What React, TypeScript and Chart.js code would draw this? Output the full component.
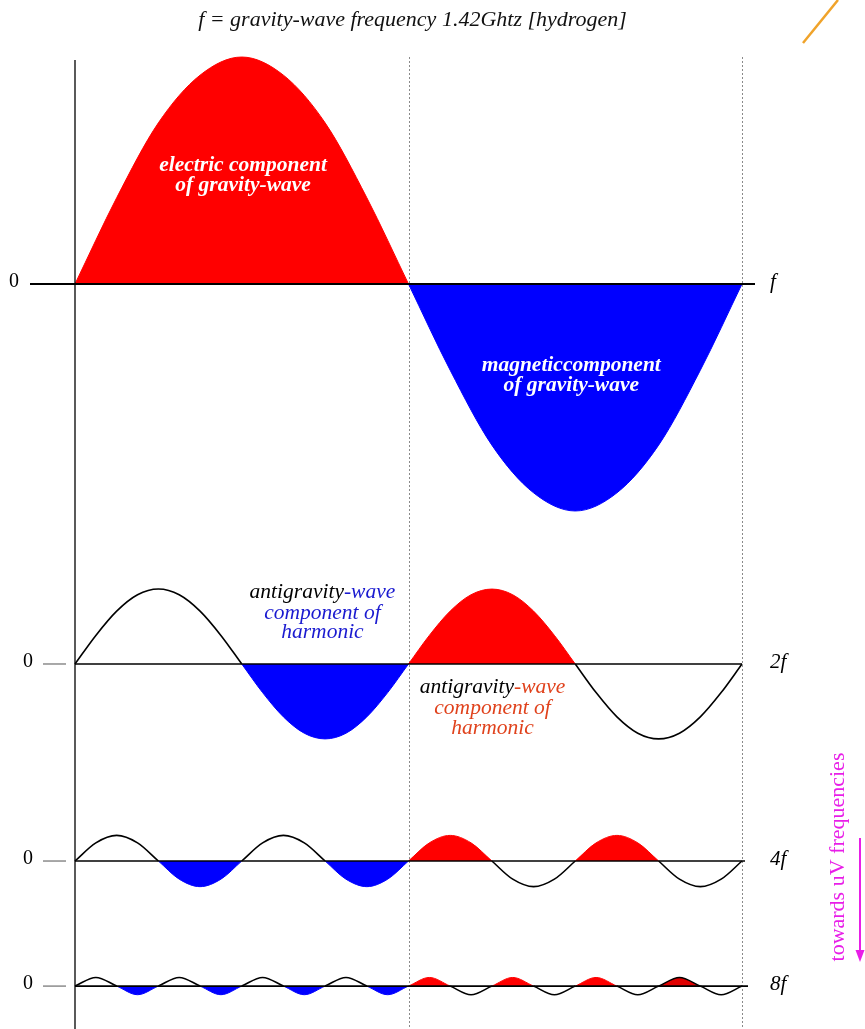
import React, { useEffect, useRef } from 'react';
import { Chart, registerables } from 'chart.js';

Chart.register(...registerables);

// ---------- text ----------
const titleText = 'f = gravity-wave frequency 1.42Ghtz [hydrogen]';
const harmonicLabels = ['f', '2f', '4f', '8f'];
const zeroLabel = '0';
const electricLabel = ['electric component', 'of gravity-wave'];
const magneticLabel = ['magneticcomponent', 'of gravity-wave'];
const noteHead = 'antigravity';
const noteTail = '-wave';
const noteLines = ['component of', 'harmonic'];
const sideNote = 'towards uV frequencies';

// ---------- data: samples evenly spaced over one fundamental period ----------
const fValues = [
  0, 0.38, 0.71, 0.92, 1.0, 0.92, 0.71, 0.38, 0,
  -0.38, -0.71, -0.92, -1.0, -0.92, -0.71, -0.38, 0,
];
const f2Values = [
  0, 0.126, 0.233, 0.305, 0.33, 0.305, 0.233, 0.126, 0,
  -0.126, -0.233, -0.305, -0.33, -0.305, -0.233, -0.126, 0,
  0.126, 0.233, 0.305, 0.33, 0.305, 0.233, 0.126, 0,
  -0.126, -0.233, -0.305, -0.33, -0.305, -0.233, -0.126, 0,
];
const f4Values = [
  0, 0.08, 0.113, 0.08, 0, -0.08, -0.113, -0.08, 0, 0.08, 0.113, 0.08, 0, -0.08, -0.113, -0.08,
  0, 0.08, 0.113, 0.08, 0, -0.08, -0.113, -0.08, 0, 0.08, 0.113, 0.08, 0, -0.08, -0.113, -0.08, 0,
];
const f8Values = [
  0, 0.038, 0, -0.038, 0, 0.038, 0, -0.038, 0, 0.038, 0, -0.038, 0, 0.038, 0, -0.038,
  0, 0.038, 0, -0.038, 0, 0.038, 0, -0.038, 0, 0.038, 0, -0.038, 0, 0.038, 0, -0.038, 0,
];

// component shown in each half-wave of each row
const fKinds = ['electric', 'magnetic'];
const f2Kinds = ['plain', 'magnetic', 'electric', 'plain'];
const f4Kinds = ['plain', 'magnetic', 'plain', 'magnetic', 'electric', 'plain', 'electric', 'plain'];
const f8Kinds = [
  'plain', 'magnetic', 'plain', 'magnetic', 'plain', 'magnetic', 'plain', 'magnetic',
  'electric', 'plain', 'electric', 'plain', 'electric', 'plain', 'electricOutlined', 'plain',
];

const KIND_STYLE: Record<string, { border: string; width: number; fill: string | null }> = {
  plain: { border: '#000000', width: 1.6, fill: null },
  electric: { border: '#ff0000', width: 1, fill: '#ff0000' },
  magnetic: { border: '#0000ff', width: 1, fill: '#0000ff' },
  electricOutlined: { border: '#000000', width: 1.4, fill: '#e00000' },
};

const rows = [
  { axis: 'yF', values: fValues, kinds: fKinds },
  { axis: 'y2F', values: f2Values, kinds: f2Kinds },
  { axis: 'y4F', values: f4Values, kinds: f4Kinds },
  { axis: 'y8F', values: f8Values, kinds: f8Kinds },
];

function halfWaveDatasets(values: number[], kinds: string[], axis: string) {
  const n = values.length - 1;
  const per = n / kinds.length;
  return kinds.map((kind, h) => {
    const pts: { x: number; y: number }[] = [];
    for (let i = h * per; i <= (h + 1) * per; i++) pts.push({ x: i / n, y: values[i] });
    const st = KIND_STYLE[kind];
    return {
      type: 'line' as const,
      data: pts,
      yAxisID: axis,
      borderColor: st.border,
      borderWidth: st.width,
      backgroundColor: st.fill || 'rgba(0,0,0,0)',
      fill: st.fill ? 'origin' : false,
      pointRadius: 0,
      cubicInterpolationMode: 'monotone' as const,
      clip: false as any,
    };
  });
}

const SERIF = '"Liberation Serif", "DejaVu Serif", serif';

const decor = {
  id: 'decor',
  beforeDatasetsDraw(chart: any) {
    const { ctx, chartArea } = chart;
    const x = chart.scales.x;
    ctx.save();
    ctx.strokeStyle = '#8a8a8a';
    ctx.lineWidth = 1;
    ctx.setLineDash([2, 2]);
    [0.5, 1].forEach((v) => {
      const px = Math.round(x.getPixelForValue(v)) + 0.5;
      ctx.beginPath();
      ctx.moveTo(px, chartArea.top + 17);
      ctx.lineTo(px, chartArea.bottom);
      ctx.stroke();
    });
    ctx.restore();
  },
  afterDatasetsDraw(chart: any) {
    const { ctx, chartArea } = chart;
    const x = chart.scales.x;
    const left = x.getPixelForValue(0);
    const right = x.getPixelForValue(1);
    ctx.save();

    // baselines
    rows.forEach((r, i) => {
      const y = chart.scales[r.axis].getPixelForValue(0);
      ctx.strokeStyle = '#000';
      if (i === 0) {
        ctx.lineWidth = 2.2;
        ctx.beginPath();
        ctx.moveTo(left - 45, y);
        ctx.lineTo(right + 13, y);
        ctx.stroke();
      } else {
        ctx.lineWidth = 1.6;
        ctx.beginPath();
        ctx.moveTo(left, y);
        ctx.lineTo(right + (i === 3 ? 6 : i === 2 ? 3 : 0), y);
        ctx.stroke();
        ctx.strokeStyle = '#7a7a7a';
        ctx.lineWidth = 1.3;
        ctx.beginPath();
        ctx.moveTo(left - 32, y);
        ctx.lineTo(left - 9, y);
        ctx.stroke();
      }
      // labels
      ctx.fillStyle = '#000';
      ctx.textBaseline = 'middle';
      ctx.textAlign = 'center';
      ctx.font = `20px ${SERIF}`;
      ctx.fillText(zeroLabel, i === 0 ? 14 : 28, y - 2);
      ctx.textAlign = 'left';
      ctx.font = `italic 21px ${SERIF}`;
      ctx.fillText(harmonicLabels[i], right + 28, y - 2);
    });

    // vertical axis
    ctx.strokeStyle = '#000';
    ctx.lineWidth = 1.3;
    ctx.beginPath();
    ctx.moveTo(left, chartArea.top + 20);
    ctx.lineTo(left, chartArea.bottom);
    ctx.stroke();

    // title
    ctx.fillStyle = '#111';
    ctx.textAlign = 'center';
    ctx.textBaseline = 'middle';
    ctx.font = `italic 22px ${SERIF}`;
    ctx.fillText(titleText, (left + right) / 2 + 4, 20);

    const yF = chart.scales.yF;
    const y2F = chart.scales.y2F;

    // white labels
    ctx.fillStyle = '#ffffff';
    ctx.font = `italic bold 21.5px ${SERIF}`;
    ctx.fillText(electricLabel[0], x.getPixelForValue(0.252), yF.getPixelForValue(0.524));
    ctx.fillText(electricLabel[1], x.getPixelForValue(0.252), yF.getPixelForValue(0.436));
    ctx.fillText(magneticLabel[0], x.getPixelForValue(0.744), yF.getPixelForValue(-0.357));
    ctx.fillText(magneticLabel[1], x.getPixelForValue(0.744), yF.getPixelForValue(-0.445));

    // antigravity notes
    const note = (cx: number, ys: number[], color: string) => {
      ctx.font = `italic 21.5px ${SERIF}`;
      const wHead = ctx.measureText(noteHead).width;
      const wTail = ctx.measureText(noteTail).width;
      const start = cx - (wHead + wTail) / 2;
      ctx.textAlign = 'left';
      ctx.fillStyle = '#000';
      ctx.fillText(noteHead, start, ys[0]);
      ctx.fillStyle = color;
      ctx.fillText(noteTail, start + wHead, ys[0]);
      ctx.textAlign = 'center';
      ctx.fillText(noteLines[0], cx, ys[1]);
      ctx.fillText(noteLines[1], cx, ys[2]);
    };
    note(x.getPixelForValue(0.371), [0.317, 0.225, 0.14].map((v) => y2F.getPixelForValue(v)), '#1a1ad0');
    note(x.getPixelForValue(0.626), [-0.102, -0.194, -0.282].map((v) => y2F.getPixelForValue(v)), '#e0421c');

    // side note + arrow
    const mag = '#e81ee8';
    ctx.save();
    ctx.translate(right + 96, chart.scales.y4F.getPixelForValue(0) - 4);
    ctx.rotate(-Math.PI / 2);
    ctx.fillStyle = mag;
    ctx.font = `22px ${SERIF}`;
    ctx.textAlign = 'center';
    ctx.textBaseline = 'middle';
    ctx.fillText(sideNote, 0, 0);
    ctx.restore();
    const ax = right + 118;
    ctx.strokeStyle = mag;
    ctx.fillStyle = mag;
    ctx.lineWidth = 2;
    ctx.beginPath();
    ctx.moveTo(ax, 838);
    ctx.lineTo(ax, 952);
    ctx.stroke();
    ctx.beginPath();
    ctx.moveTo(ax - 4.5, 950);
    ctx.lineTo(ax + 4.5, 950);
    ctx.lineTo(ax, 962);
    ctx.closePath();
    ctx.fill();

    // orange stroke at the top right
    ctx.strokeStyle = '#f0a32a';
    ctx.lineWidth = 2.5;
    ctx.beginPath();
    ctx.moveTo(right + 61, 43);
    ctx.lineTo(right + 96, 0);
    ctx.stroke();

    ctx.restore();
  },
};

export default function App() {
  const ref = useRef<HTMLCanvasElement | null>(null);
  useEffect(() => {
    if (!ref.current) return;
    const datasets = rows.flatMap((r) => halfWaveDatasets(r.values, r.kinds, r.axis));
    const hidden = { display: false, stack: 'rows' };
    const chart = new Chart(ref.current, {
      type: 'line',
      data: { datasets: datasets as any },
      options: {
        animation: false,
        responsive: true,
        maintainAspectRatio: false,
        events: [],
        layout: { padding: { left: 75, right: 123, top: 40, bottom: 0 } },
        plugins: { legend: { display: false }, tooltip: { enabled: false }, title: { display: false } },
        scales: {
          x: { type: 'linear', min: 0, max: 1, display: false },
          yF: { ...hidden, type: 'linear', position: 'left', min: -1.216, max: 1.075, stackWeight: 520, weight: 4 },
          y2F: { ...hidden, type: 'linear', position: 'left', min: -0.555, max: 0.458, stackWeight: 230, weight: 3 },
          y4F: { ...hidden, type: 'linear', position: 'left', min: -0.304, max: 0.313, stackWeight: 140, weight: 2 },
          y8F: { ...hidden, type: 'linear', position: 'left', min: -0.189, max: 0.247, stackWeight: 99, weight: 1 },
        } as any,
      },
      plugins: [decor],
    });
    return () => chart.destroy();
  }, []);
  return (
    <div style={{ position: 'absolute', left: 0, top: 0, width: 865, height: 1029, background: '#fff' }}>
      <canvas ref={ref} />
    </div>
  );
}
